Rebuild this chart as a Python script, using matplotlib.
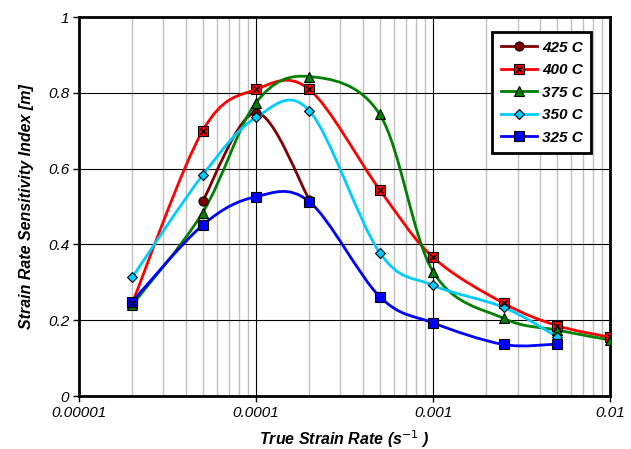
import numpy as np
import matplotlib
matplotlib.use('Agg')
import matplotlib.pyplot as plt
from matplotlib.path import Path
from matplotlib.patches import PathPatch
from matplotlib.lines import Line2D
from matplotlib.ticker import FixedLocator, FixedFormatter, NullLocator

plt.rcParams['font.family'] = ['Liberation Sans', 'DejaVu Sans']

# strain rates (1/s)
rate_425 = [5e-5, 1e-4, 2e-4]
m_425 = [0.514, 0.748, 0.518]

rates = [2e-5, 5e-5, 1e-4, 2e-4, 5e-4, 1e-3, 2.5e-3, 5e-3, 1e-2]
m_400 = [0.245, 0.700, 0.809, 0.809, 0.544, 0.366, 0.245, 0.186, 0.155]
m_375 = [0.240, 0.484, 0.774, 0.843, 0.743, 0.328, 0.205, 0.174, 0.148]

rates_short = [2e-5, 5e-5, 1e-4, 2e-4, 5e-4, 1e-3, 2.5e-3, 5e-3]
m_350 = [0.313, 0.583, 0.735, 0.753, 0.378, 0.292, 0.234, 0.157]
m_325 = [0.249, 0.451, 0.526, 0.513, 0.262, 0.193, 0.136, 0.137]

x_ticks = [1e-5, 1e-4, 1e-3, 1e-2]
x_labels = ['0.00001', '0.0001', '0.001', '0.01']
y_ticks = [0, 0.2, 0.4, 0.6, 0.8, 1.0]
y_labels = ['0', '0.2', '0.4', '0.6', '0.8', '1']


def smooth_path(xs, ys):
    # bezier smoothing like excel, done in log(x) space
    pts = np.column_stack([np.log10(xs), ys])
    n = len(pts)
    verts = [pts[0]]
    codes = [Path.MOVETO]
    for i in range(n - 1):
        p0 = pts[i - 1] if i > 0 else pts[i]
        p3 = pts[i + 2] if i + 2 < n else pts[i + 1]
        c1 = pts[i] + (pts[i + 1] - p0) / 6.0
        c2 = pts[i + 1] - (p3 - pts[i]) / 6.0
        verts += [c1, c2, pts[i + 1]]
        codes += [Path.CURVE4] * 3
    verts = np.array(verts)
    verts[:, 0] = 10 ** verts[:, 0]
    return Path(verts, codes)


fig = plt.figure(figsize=(6.31, 4.49), dpi=100)
ax = fig.add_axes([0.125, 0.118, 0.842, 0.844])
ax.set_xscale('log')
ax.set_xlim(1e-5, 1e-2)
ax.set_ylim(0, 1)

# grid
minor = [k * 10.0 ** e for e in (-5, -4, -3) for k in range(2, 10)]
for v in minor:
    ax.axvline(v, color='#c0c0c0', lw=1.0, zorder=0)
for v in x_ticks[1:-1]:
    ax.axvline(v, color='black', lw=0.8, zorder=0)
for v in y_ticks[1:-1]:
    ax.axhline(v, color='black', lw=0.8, zorder=0)

series = [
    ('425 C', rate_425, m_425, '#800000', 'o', 6.5),
    ('400 C', rates, m_400, '#ff0000', 's', 6.5),
    ('375 C', rates, m_375, '#008000', '^', 6.5),
    ('350 C', rates_short, m_350, '#00ccff', 'D', 5),
    ('325 C', rates_short, m_325, '#0000ff', 's', 7),
]

handles = []
for name, xs, ys, col, mk, ms in series:
    ax.add_patch(PathPatch(smooth_path(xs, ys), fill=False, edgecolor=col,
                           lw=2.0, zorder=2, capstyle='round'))
    ax.plot(xs, ys, ls='none', marker=mk, ms=ms, mfc=col, mec='black',
            mew=0.8, zorder=3)
    h = Line2D([], [], color=col, lw=2.0, marker=mk, ms=ms, mfc=col,
               mec='black', mew=0.8)
    if name == '400 C':
        ax.plot(xs, ys, ls='none', marker='x', ms=5, mec='black', mew=1.0,
                zorder=4)
        hx = Line2D([], [], ls='none', marker='x', ms=5, mec='black', mew=1.0)
        h = (h, hx)
    handles.append(h)

ax.xaxis.set_major_locator(FixedLocator(x_ticks))
ax.xaxis.set_major_formatter(FixedFormatter(x_labels))
ax.xaxis.set_minor_locator(NullLocator())
ax.yaxis.set_major_locator(FixedLocator(y_ticks))
ax.yaxis.set_major_formatter(FixedFormatter(y_labels))
ax.tick_params(axis='both', direction='out', length=4, width=1,
               labelsize=11, pad=3)
for lab in ax.get_xticklabels() + ax.get_yticklabels():
    lab.set_fontstyle('italic')
for sp in ax.spines.values():
    sp.set_linewidth(2)

ax.set_xlabel('True Strain Rate (s$^{-1}$ )', fontsize=11.5,
              fontweight='bold', fontstyle='italic', labelpad=6)
ax.set_ylabel('Strain Rate Sensitivity Index [m]', fontsize=11.5,
              fontweight='bold', fontstyle='italic', labelpad=10)

leg = ax.legend(handles, [s[0] for s in series], loc='upper right',
                bbox_to_anchor=(0.964, 0.960), borderaxespad=0,
                fancybox=False, framealpha=1, edgecolor='black',
                handlelength=2.35, borderpad=0.55, labelspacing=0.56,
                handletextpad=0.35,
                prop={'weight': 'bold', 'style': 'italic', 'size': 11})
leg.get_frame().set_linewidth(2)
leg.set_zorder(5)

fig.savefig('out.png', dpi=100)
